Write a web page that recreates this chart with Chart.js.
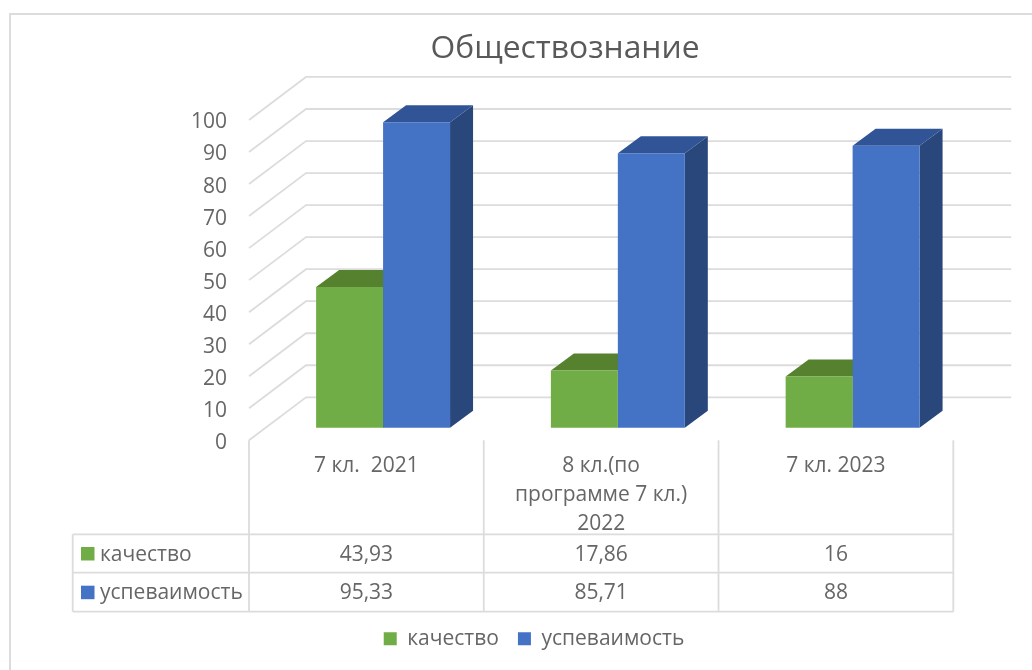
<!DOCTYPE html>
<html><head><meta charset="utf-8">
<style>html,body{margin:0;padding:0;background:#fff}canvas{display:block}</style>
<script src="https://cdn.jsdelivr.net/npm/chart.js@4"></script></head>
<body><canvas id="c" width="1032" height="670"></canvas>
<script>
const categories = ['7 кл.  2021', ['8 кл.(по', 'программе 7 кл.)', '2022'], '7 кл. 2023'];
const quality = [43.93, 17.86, 16];
const progress = [95.33, 85.71, 88];
const titleText = 'Обществознание';
const FONT = '"Open Sans", "Noto Sans", sans-serif';
const TEXT = '#666666', LINE = '#dcdcdc';
const FS = 21;

const view3d = {
  id: 'view3d',
  afterLayout(chart) {
    chart.titleBlock.left += 31;
    chart.titleBlock.right += 31;
  },
  beforeDatasetsDraw(chart) {
    const ctx = chart.ctx, y = chart.scales.y, a = chart.chartArea;
    ctx.save();
    ctx.strokeStyle = '#dcdcdc'; ctx.lineWidth = 2;
    ctx.beginPath(); ctx.moveTo(10, 670); ctx.lineTo(10, 14); ctx.lineTo(1032, 14); ctx.stroke();
    ctx.strokeStyle = LINE; ctx.lineWidth = 1.8;
    y.ticks.forEach(t => {
      const p = y.getPixelForValue(t.value);
      ctx.beginPath();
      ctx.moveTo(a.left, p);
      ctx.lineTo(a.left + 57, p - 43);
      ctx.lineTo(a.right + 58, p - 43);
      ctx.stroke();
    });
    const colors = [['#43692a', '#56822f'], ['#2a477c', '#305496']];
    chart.data.datasets.forEach((ds, d) => {
      chart.getDatasetMeta(d).data.forEach(b => {
        const l = b.x - b.width / 2 + 16.7, r = b.x + b.width / 2 + 16.7;
        const t = b.y - 12.6, base = b.base - 12.6;
        ctx.fillStyle = colors[d][0];
        ctx.beginPath(); ctx.moveTo(r, t); ctx.lineTo(r + 23, t - 17); ctx.lineTo(r + 23, base - 17); ctx.lineTo(r, base); ctx.closePath(); ctx.fill();
        ctx.fillStyle = colors[d][1];
        ctx.beginPath(); ctx.moveTo(l, t); ctx.lineTo(l + 23, t - 17); ctx.lineTo(r + 23, t - 17); ctx.lineTo(r, t); ctx.closePath(); ctx.fill();
      });
    });
    ctx.restore();
  },
  beforeDatasetDraw(chart) { chart.ctx.save(); chart.ctx.translate(16.7, -12.6); },
  afterDatasetDraw(chart) { chart.ctx.restore(); },
  afterDraw(chart) {
    const ctx = chart.ctx, a = chart.chartArea, x = chart.scales.x;
    const rows = [534.3, 572.7, 611.7], tableLeft = 72.7;
    const cols = [a.left];
    x.ticks.forEach((t, i) => cols.push(a.left + (a.right - a.left) * (i + 1) / x.ticks.length));
    ctx.save();
    ctx.strokeStyle = LINE; ctx.lineWidth = 1.8;
    cols.forEach(c => { ctx.beginPath(); ctx.moveTo(c, a.bottom); ctx.lineTo(c, rows[2]); ctx.stroke(); });
    ctx.beginPath(); ctx.moveTo(tableLeft, rows[0]); ctx.lineTo(tableLeft, rows[2]); ctx.stroke();
    rows.forEach(r => { ctx.beginPath(); ctx.moveTo(tableLeft, r); ctx.lineTo(a.right, r); ctx.stroke(); });
    ctx.font = FS + 'px ' + FONT; ctx.textBaseline = 'middle';
    chart.data.datasets.forEach((ds, d) => {
      const cy = (rows[d] + rows[d + 1]) / 2 + 1.2;
      ctx.fillStyle = ds.backgroundColor;
      ctx.fillRect(81, cy - 7.7, 13.5, 13.5);
      ctx.fillStyle = TEXT; ctx.textAlign = 'left';
      ctx.fillText(ds.label, 100, cy);
      ctx.textAlign = 'center';
      ds.data.forEach((v, i) => ctx.fillText(String(v).replace('.', ','), (cols[i] + cols[i + 1]) / 2, cy));
    });
    ctx.restore();
  }
};

new Chart(document.getElementById('c'), {
  type: 'bar',
  data: {
    labels: categories,
    datasets: [
      { label: 'качество', data: quality, backgroundColor: '#70ad47' },
      { label: 'успеваимость', data: progress, backgroundColor: '#4472c4' }
    ]
  },
  plugins: [view3d],
  options: {
    responsive: false,
    animation: false,
    layout: { padding: { left: 114.7, right: 78.7, top: 0, bottom: 10.8 } },
    datasets: { bar: { barPercentage: 1, categoryPercentage: 0.5705, clip: false } },
    scales: {
      x: {
        grid: { display: false }, border: { display: false },
        afterFit(s) { s.height = 168.9; },
        ticks: { color: TEXT, font: { family: FONT, size: FS, lineHeight: 1.38 }, padding: 3.5, maxRotation: 0, autoSkip: false }
      },
      y: {
        min: 0, max: 100,
        grid: { display: false }, border: { display: false },
        afterFit(s) { s.width = 134.3; },
        ticks: { stepSize: 10, color: TEXT, font: { family: FONT, size: FS }, padding: 14, labelOffset: 2.5 }
      }
    },
    plugins: {
      title: { display: true, text: titleText, color: '#595959', font: { family: FONT, size: 31.8, weight: 'normal', lineHeight: 1.2 }, padding: { top: 29.7, bottom: 52.1 } },
      legend: {
        position: 'bottom',
        labels: { color: TEXT, font: { family: FONT, size: FS }, boxWidth: 13, boxHeight: 13, padding: 19 }
      },
      tooltip: { enabled: false }
    }
  }
});
</script></body></html>
